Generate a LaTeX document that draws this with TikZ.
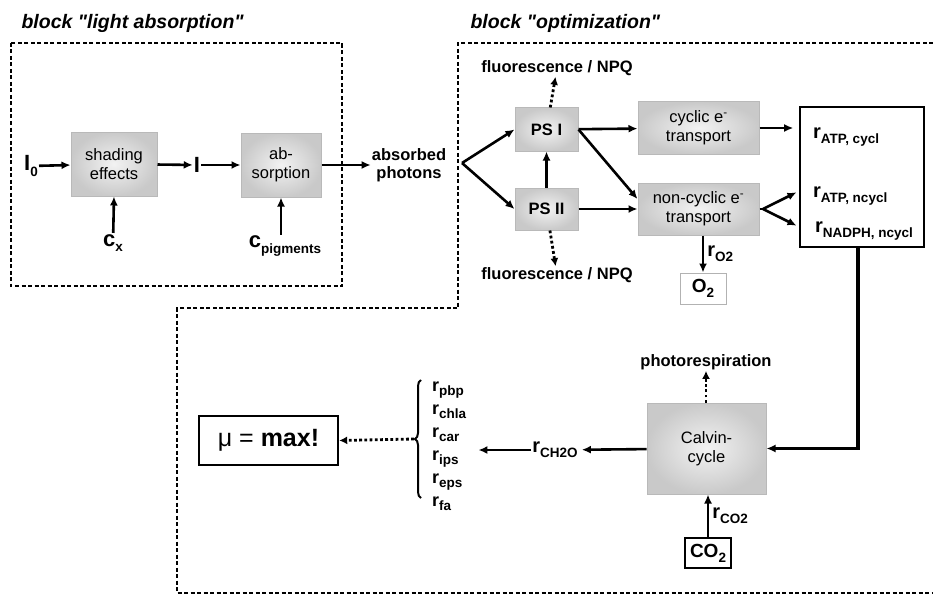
\documentclass[tikz,border=0pt]{standalone}
\usepackage{fontspec}
\setmainfont{Liberation Sans}
\usetikzlibrary{matrix,decorations.pathreplacing,arrows.meta}
\newcommand\lowsub[2]{#1\raisebox{-0.5ex}{\fontsize{13.5}{14}\selectfont #2}}

\begin{document}
\begin{tikzpicture}[x=1pt,y=-1pt,
    proc/.style={draw=gray!55, line width=1pt, inner color=gray!10, outer color=gray!42, inner sep=0pt, align=center, font=\fontsize{16.5}{19}\selectfont},
    frame/.style={line width=2pt, dash pattern=on 4pt off 2.5pt},
    lbl/.style={font=\bfseries\fontsize{16.5}{18}\selectfont, align=center, inner sep=1pt},
    big/.style={font=\bfseries\fontsize{22}{24}\selectfont, inner sep=1pt},
    rr/.style={font=\bfseries\fontsize{20}{22}\selectfont, inner sep=1pt},
    ttl/.style={font=\bfseries\itshape\fontsize{19.5}{21}\selectfont, anchor=west},
    arr/.style={-{Latex[length=9pt,width=8pt]}, line width=2.6pt},
    dotarr/.style={-{Latex[length=8pt,width=8pt]}, line width=2.8pt, dash pattern=on 2.8pt off 2.4pt}]
    \useasboundingbox (0,0) rectangle (933,599);

    \node[ttl] (ttlabs) at (18,23) {block \textquotedbl light absorption\textquotedbl};
    \node[ttl] (ttlopt) at (467,23) {block \textquotedbl optimization\textquotedbl};
    \draw[frame] (11,43) rectangle (342,286);
    \draw[frame] (933,43) -- (458,43) -- (458,308) -- (177,308) -- (177,593) -- (933,593);

    \node[proc, minimum width=86, minimum height=64] (shade) at (114,164) {shading\\effects};
    \node[proc, minimum width=80, minimum height=64] (absorb) at (281,165) {ab-\\sorption};
    \node[big] (izero) at (31,166) {\lowsub{I}{0}};
    \node[big] (itxt) at (197,165) {I};
    \node[big] (cx) at (113,243) {\lowsub{c}{x}};
    \node[big] (cpig) at (285,246) {\lowsub{c}{pigments}};
    \node[lbl] (photons) at (409,165) {absorbed\\photons};

    \draw[arr] (izero) -- (shade);
    \draw[arr] (shade) -- (itxt);
    \draw[arr] (itxt) -- (absorb);
    \draw[arr] (absorb) -- (photons);
    \draw[arr] (cx) -- (shade.south);
    \draw[arr] (absorb.south |- cpig.north) -- (absorb.south);

    \node[proc, font=\bfseries\fontsize{16.5}{19}\selectfont, minimum width=63, minimum height=43] (psone) at (546.5,129.5) {PS I};
    \node[proc, font=\bfseries\fontsize{16.5}{19}\selectfont, minimum width=63, minimum height=42] (pstwo) at (546.5,209) {PS II};
    \node[proc, minimum width=121, minimum height=52] (cyc) at (698.5,128) {cyclic e\textsuperscript{-}\\transport};
    \node[proc, minimum width=121, minimum height=52] (ncyc) at (698.5,209) {non-cyclic e\textsuperscript{-}\\transport};
    \node[lbl] (fluorup) at (557,68) {fluorescence / NPQ};
    \node[lbl] (fluordown) at (557,275) {fluorescence / NPQ};
    \coordinate (split) at (462,163);
    \coordinate (fork) at (763,209);

    \draw[arr] (split) -- (psone.west);
    \draw[arr] (split) -- (pstwo.west);
    \draw[arr] (pstwo) -- (psone);
    \draw[dotarr] (psone) -- (fluorup);
    \draw[dotarr] (pstwo) -- (fluordown);
    \draw[arr] (psone) -- (cyc);
    \draw[arr] (psone.east) -- ([yshift=10pt]ncyc.west);
    \draw[arr] (pstwo) -- (ncyc);

    \node[draw, line width=1.6pt, minimum width=124, minimum height=140, inner sep=0pt] (rbox) at (862,177) {};
    \node[rr, anchor=west] (ratpc) at (812,137) {\lowsub{r}{ATP, cycl}};
    \node[rr, anchor=west] (ratpn) at (812,196) {\lowsub{r}{ATP, ncycl}};
    \node[rr, anchor=west] (rnadph) at (814,231) {\lowsub{r}{NADPH, ncycl}};
    \draw[arr, shorten >=6pt] (cyc) -- (cyc -| rbox.west);
    \draw[line width=2.6pt] (ncyc) -- (fork);
    \draw[arr, shorten >=3pt] (fork) -- ([yshift=-14pt]rbox.west);
    \draw[arr, shorten >=3pt] (fork) -- ([yshift=-50pt]rbox.west);

    \node[draw=gray!60, line width=1pt, minimum width=46, minimum height=31, inner sep=0pt, font=\bfseries\fontsize{19}{20}\selectfont] (otwo) at (703,288.5) {\lowsub{O}{2}};
    \draw[arr] (otwo.north |- ncyc.south) -- node[rr, right, xshift=2pt] (ro2) {\lowsub{r}{O2}} (otwo.north);

    \node[proc, minimum width=119, minimum height=91] (calvin) at (706.5,448.5) {Calvin-\\cycle};
    \node[lbl] (photoresp) at (706,362) {photorespiration};
    \node[draw, line width=1.4pt, minimum width=46, minimum height=30, inner sep=0pt, font=\bfseries\fontsize{19}{20}\selectfont] (cotwo) at (708,553) {\lowsub{CO}{2}};
    \draw[arr, line width=3.4pt] (rbox.south -| 858,0) |- (calvin.east);
    \draw[dotarr] (calvin.north -| photoresp) -- (photoresp);
    \draw[arr] (cotwo) -- node[rr, right, xshift=2pt] (rco2) {\lowsub{r}{CO2}} (cotwo |- calvin.south);

    \node[rr] (rch) at (555,450) {\lowsub{r}{CH2O}};
    \draw[arr, shorten >=3pt] (calvin) -- (rch);

    \matrix[matrix of nodes, anchor=west, inner sep=0pt, row sep=6pt,
        nodes={anchor=west, inner sep=0pt, text height=13pt, text depth=4pt, font=\bfseries\fontsize{18}{19}\selectfont}] (rates) at (432,444) {
        \lowsub{r}{pbp} \\
        \lowsub{r}{chla} \\
        \lowsub{r}{car} \\
        \lowsub{r}{ips} \\
        \lowsub{r}{eps} \\
        \lowsub{r}{fa} \\
    };
    \draw[arr, shorten >=12pt] (rch) -- (rch -| rates.east);
    \draw[line width=2pt, decorate, decoration={brace, amplitude=6pt}] (421,498) -- (421,380);
    \coordinate (bracetip) at (414,439);

    \node[draw, line width=2.4pt, minimum width=139, minimum height=49, inner sep=0pt, font=\fontsize{25}{27}\selectfont] (mubox) at (268.5,440.5) {μ = \textbf{max!}};
    \draw[dotarr] (bracetip) -- (mubox.east);
\end{tikzpicture}
\end{document}
